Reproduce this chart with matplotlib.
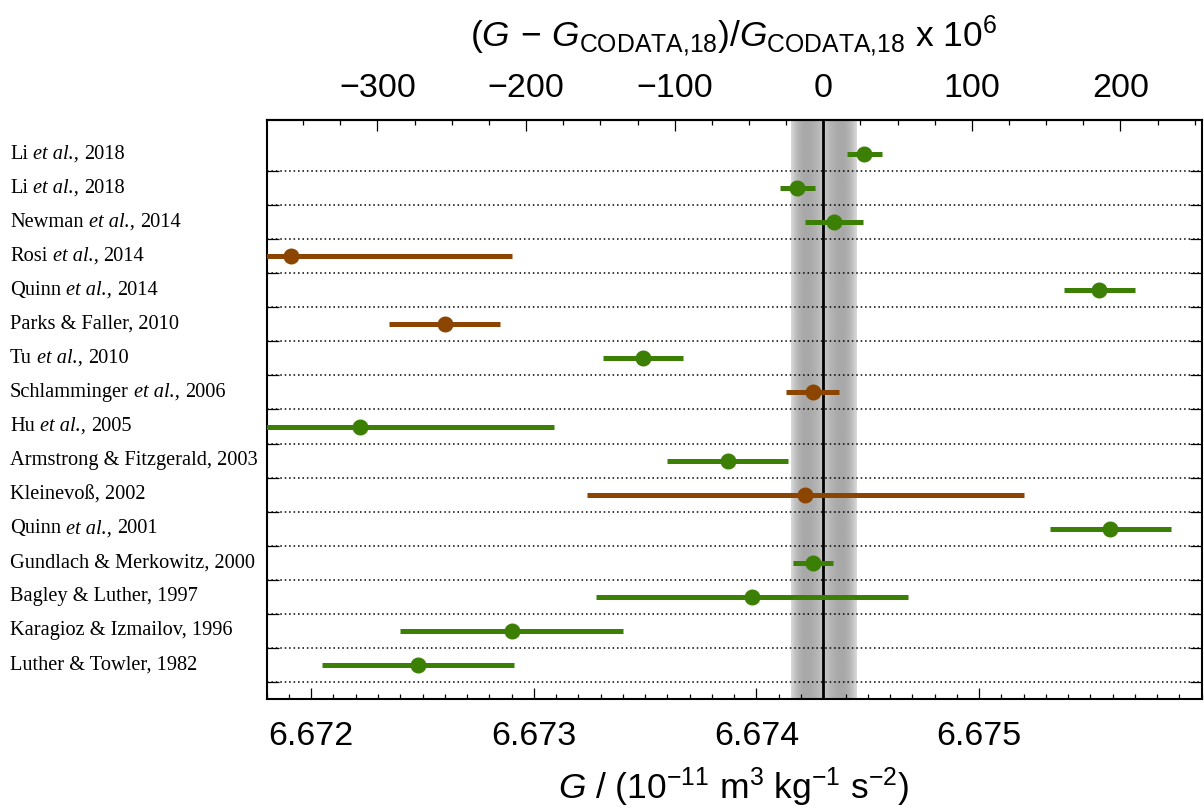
import numpy as np
import matplotlib
matplotlib.use("Agg")
import matplotlib.pyplot as plt
import matplotlib.transforms as mtransforms
from matplotlib.ticker import MultipleLocator
from matplotlib.offsetbox import TextArea, HPacker, AnnotationBbox

# ---------------- data ----------------
authors = ["Li", "Li", "Newman", "Rosi", "Quinn", "Parks & Faller", "Tu",
           "Schlamminger", "Hu", "Armstrong & Fitzgerald", "Kleinevoß",
           "Quinn", "Gundlach & Merkowitz", "Bagley & Luther",
           "Karagioz & Izmailov", "Luther & Towler"]
et_al = [True, True, True, True, True, False, True, True, True, False, False,
         True, False, False, False, False]
years = ["2018", "2018", "2014", "2014", "2014", "2010", "2010", "2006",
         "2005", "2003", "2002", "2001", "2000", "1997", "1996", "1982"]
G_values = [6.674484, 6.674184, 6.67435, 6.67191, 6.67554, 6.67260, 6.67349,
            6.674252, 6.67222, 6.67387, 6.67422, 6.67559, 6.674255, 6.67398,
            6.67290, 6.67248]
G_unc = [0.000078, 0.000078, 0.00013, 0.00099, 0.00016, 0.00025, 0.00018,
         0.000121, 0.00087, 0.00027, 0.00098, 0.00027, 0.000090, 0.00070,
         0.00050, 0.00043]
is_brown = [False, False, False, True, False, True, False, True, False, False,
            True, False, False, False, False, False]
G_codata = 6.67430
rel_unc_codata = 22e-6

bottom_ticks = [6.672, 6.673, 6.674, 6.675]
top_ticks = [-300, -200, -100, 0, 100, 200]

GREEN = "#3b7f04"
BROWN = "#8c4500"

# ---------------- style ----------------
plt.rcParams["font.family"] = ["Liberation Sans", "DejaVu Sans"]
plt.rcParams["mathtext.fontset"] = "custom"
plt.rcParams["mathtext.rm"] = "Liberation Sans"
plt.rcParams["mathtext.it"] = "Liberation Sans:italic"
plt.rcParams["mathtext.bf"] = "Liberation Sans:bold"

W, H = 1204, 809
fig = plt.figure(figsize=(W / 100, H / 100), dpi=100)
left_px, right_px, top_px, bot_px = 266.7, 1201.7, 120, 699
ax = fig.add_axes([left_px / W, 1 - bot_px / H,
                   (right_px - left_px) / W, (bot_px - top_px) / H])

n = len(authors)
ypos = np.arange(1, n + 1)

# gray band with gradient
hw = G_codata * rel_unc_codata
d = np.abs(np.linspace(-1, 1, 301))
v = np.where(d < 0.55,
             0.66 + 0.13 * ((d - 0.55) / 0.55) ** 2,
             0.66 + 0.20 * ((d - 0.55) / 0.45) ** 2)
ax.imshow(v[np.newaxis, :], cmap="gray", vmin=0, vmax=1, aspect="auto",
          extent=[G_codata - hw, G_codata + hw, n + 1, 0], zorder=0,
          interpolation="bilinear")
ax.axvline(G_codata, color="black", lw=2.0, zorder=1)

# dotted separators
for yb in np.arange(1.5, n + 1, 1.0):
    ax.axhline(yb, color="black", lw=1.1, ls=(0, (1, 1.9)), zorder=0.5)

# error bars
for i in range(n):
    c = BROWN if is_brown[i] else GREEN
    ax.errorbar(G_values[i], ypos[i], xerr=G_unc[i], fmt="o", color=c,
                ms=10.5, elinewidth=3.6, capsize=0, zorder=3)

ax.set_xlim(6.6718, 6.6760)
ax.set_ylim(n + 1, 0)

# bottom axis ticks
ax.xaxis.set_minor_locator(MultipleLocator(0.0001))
ax.set_xticks(bottom_ticks)
ax.set_xticklabels([f"{t:.3f}" for t in bottom_ticks])
ax.tick_params(axis="x", which="major", direction="in", length=7.7, width=0.9,
               labelsize=24.5, pad=15.5, top=False)
ax.tick_params(axis="x", which="minor", direction="in", length=3.4, width=0.9,
               top=False)

# left/right ticks at separators
ax.set_yticks(np.arange(1.5, n + 1, 1.0))
ax.set_yticklabels([])
ax.tick_params(axis="y", which="both", direction="in", length=8.4, width=0.9,
               left=True, right=True)

for s in ax.spines.values():
    s.set_linewidth(1.5)

# top axis: relative deviation in ppm
sec = ax.secondary_xaxis("top",
                         functions=(lambda g: (g / G_codata - 1) * 1e6,
                                    lambda p: G_codata * (1 + p / 1e6)))
sec.set_xticks(top_ticks)
sec.xaxis.set_minor_locator(MultipleLocator(25))
sec.tick_params(axis="x", which="major", direction="in", length=7.7, width=0.9,
                labelsize=24.5, pad=11.5)
sec.tick_params(axis="x", which="minor", direction="in", length=3.4, width=0.9)
sec.spines["top"].set_linewidth(1.5)

# axis labels
fig.text(734 / W, 1 - 47 / H,
         r"$(G\,-\,G_{\mathrm{CODATA{,}18}})/G_{\mathrm{CODATA{,}18}}$ x $10^{6}$",
         ha="center", va="baseline", fontsize=25.5)
fig.text(734 / W, 1 - 799 / H,
         r"$G\ /\ (10^{-11}\ \mathrm{m}^{3}\ \mathrm{kg}^{-1}\ \mathrm{s}^{-2})$",
         ha="center", va="baseline", fontsize=25.5)

# row labels (mixed roman / italic serif)
trans = mtransforms.blended_transform_factory(fig.transFigure, ax.transData)
serif = ["Liberation Serif", "DejaVu Serif"]
fs = 14.7
for i in range(n):
    rom = dict(family=serif, size=fs, color="black")
    ita = dict(family=serif, size=fs, style="italic", color="black")
    if et_al[i]:
        children = [TextArea(authors[i], textprops=rom),
                    TextArea("et al.,", textprops=ita),
                    TextArea(years[i], textprops=rom)]
    else:
        children = [TextArea(f"{authors[i]}, {years[i]}", textprops=rom)]
    box = HPacker(children=children, align="baseline", pad=0, sep=3.7)
    ab = AnnotationBbox(box, (10 / W, ypos[i]), xycoords=trans,
                        box_alignment=(0, 0.5), frameon=False, pad=0,
                        annotation_clip=False)
    ax.add_artist(ab)

fig.savefig("out.png", dpi=100)
